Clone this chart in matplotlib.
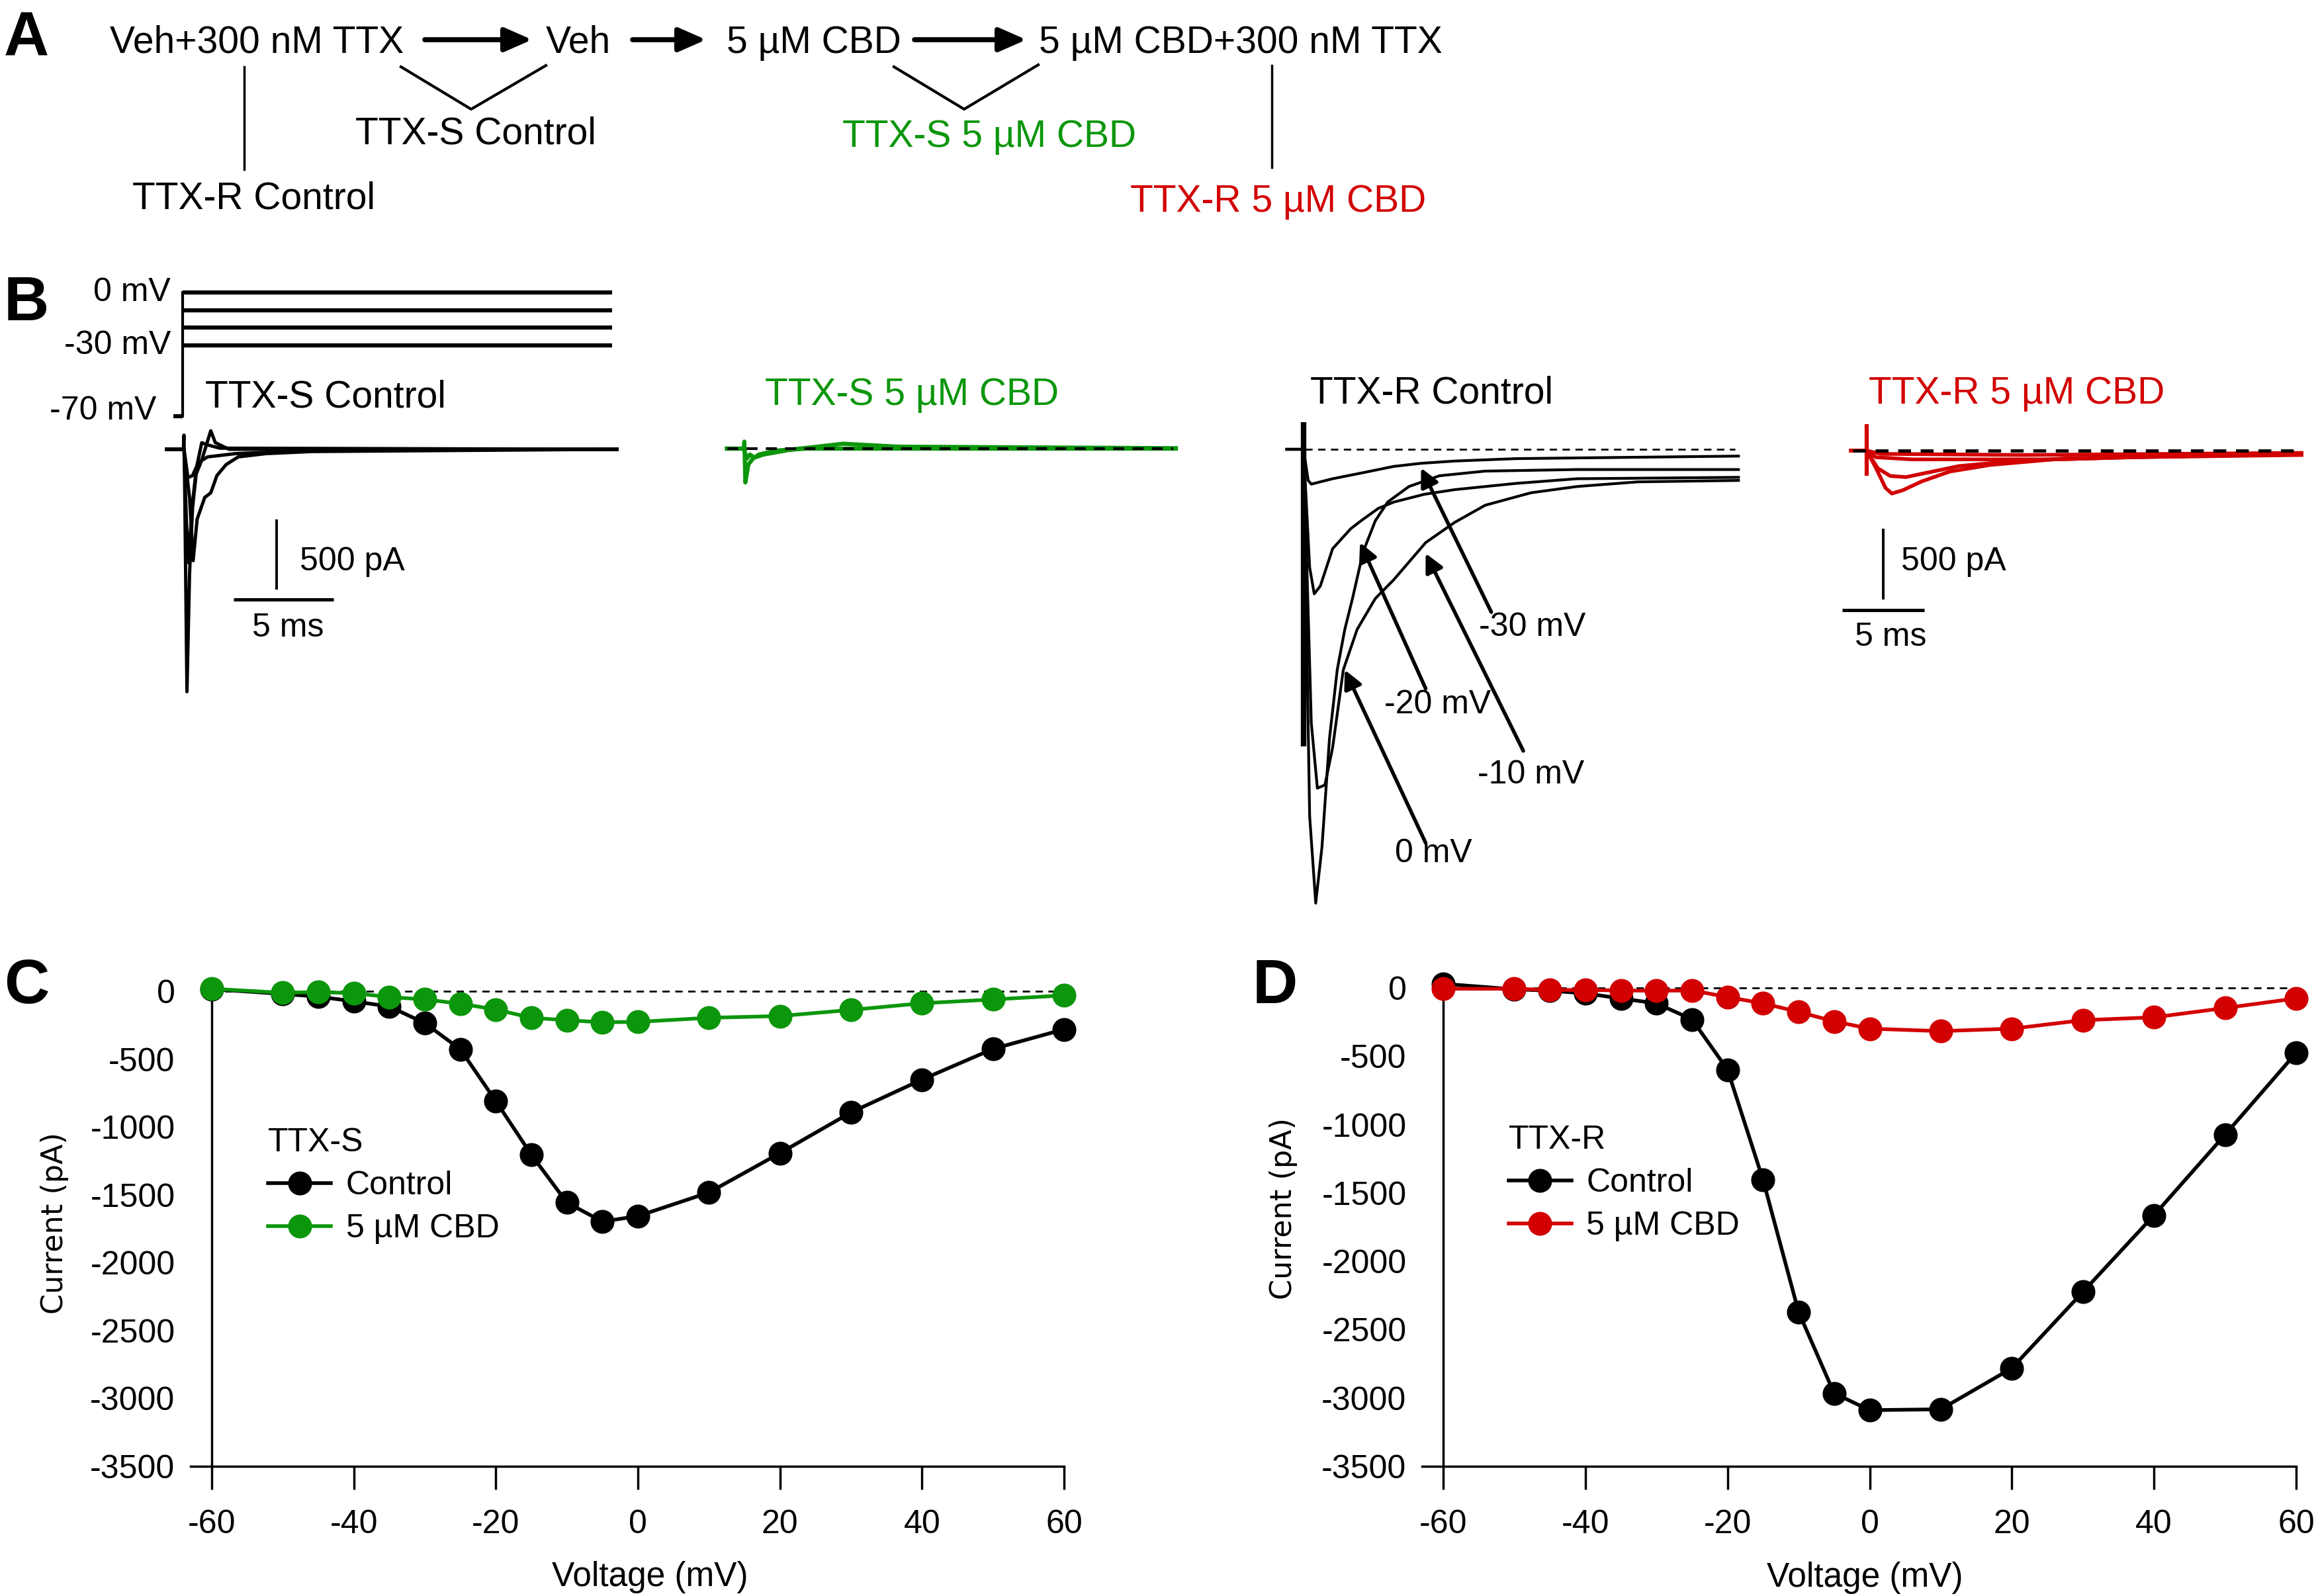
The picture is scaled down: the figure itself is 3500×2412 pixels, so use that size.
import matplotlib
matplotlib.use("Agg")
import matplotlib.pyplot as plt
from matplotlib.lines import Line2D

plt.rcParams['font.family'] = ['Liberation Sans', 'DejaVu Sans']
plt.rcParams['axes.unicode_minus'] = False

W, H = 3500, 2412
GREEN = '#0c960c'
RED = '#d20000'

# ---- C / D : I-V relationships
voltage_mV = [-60, -50, -45, -40, -35, -30, -25, -20, -15, -10, -5, 0, 10, 20, 30, 40, 50, 60]
ttxs_control_pA = [15, -20, -40, -75, -113, -235, -428, -810, -1205, -1557, -1697, -1657,
                   -1483, -1193, -893, -651, -425, -281]
ttxs_cbd_pA = [18, -12, -6, -15, -43, -61, -92, -135, -196, -214, -229, -226,
               -196, -183, -138, -89, -61, -31]
ttxr_control_pA = [30, -10, -20, -40, -77, -113, -230, -598, -1405, -2371, -2966, -3089,
                   -3083, -2782, -2224, -1663, -1074, -475]
ttxr_cbd_pA = [-6, -6, -15, -15, -18, -21, -18, -67, -113, -175, -245, -298,
               -316, -298, -236, -215, -147, -77]

# ---- B : voltage protocol
step_levels_mV = [0, -10, -20, -30]
holding_mV = -70
step_ms = [0, 21.5]
hold_ms = [-0.47, 0]

# ---- B : TTX-S control traces (ms, pA)
s_ctrl_t = [
    [-0.87, -0.03, 0, 0.03, 0.15, 0.28, 0.43, 0.66, 0.89, 1.19, 1.80, 21.67],
    [-0.87, 0, 0.12, 0.24, 0.40, 0.58, 0.89, 1.34, 1.57, 2.26, 21.67],
    [-0.87, 0, 0.28, 0.46, 0.66, 1.04, 1.34, 1.65, 2.11, 2.72, 4.10, 6.39, 21.67],
    [-0.87, 0, 0.20, 0.43, 0.73, 1.19, 2.57, 6.39, 21.67],
]
s_ctrl_i = [
    [0, 0, 101, -187, -1728, -887, -420, -109, 47, 31, 8, 0],
    [0, 0, -498, -810, -420, -187, -78, 132, 47, 0, 0],
    [0, 0, -343, -794, -498, -343, -311, -187, -109, -54, -31, -16, 0],
    [0, 0, -202, -187, -93, -54, -31, -8, 0],
]

# ---- B : TTX-S 5 uM CBD traces
s_cbd_t = [
    [-0.84, 0, 0.03, 0.08, 0.23, 0.46, 0.76, 1.60, 3.13, 21.62],
    [-0.84, 0, 0.15, 0.31, 0.53, 0.99, 2.37, 4.97, 7.72, 21.62],
]
s_cbd_i = [
    [0, 0, 50, -241, -113, -71, -42, -14, 0, 0],
    [0, 0, -71, -42, -64, -42, -7, 35, 14, 3],
]

# ---- B : TTX-R control traces (0, -10, -20, -30 mV)
r_ctrl_artifact_pA = [190, -2100]
r_ctrl_t = [
    [-1.02, 0, 0.37, 0.74, 1.12, 1.58, 2.05, 2.51, 2.98, 3.63, 4.37, 5.12, 6.42, 8.28, 11.07, 16.65, 26.5],
    [-1.02, 0, 0.47, 0.84, 1.30, 1.77, 2.42, 3.26, 4.37, 5.49, 7.44, 9.21, 11.07, 13.86, 16.65, 20.37, 26.5],
    [-1.02, 0, 0.37, 0.65, 1.02, 1.77, 2.88, 3.63, 4.56, 5.49, 7.35, 9.21, 12.93, 16.65, 26.5],
    [-1.02, 0, 0.28, 0.47, 1.77, 3.63, 5.49, 7.16, 9.21, 12.93, 16.65, 26.5],
]
r_ctrl_i = [
    [0, 0, -2590, -3205, -2810, -2041, -1558, -1273, -1054, -724, -505, -373, -263, -187, -154, -143, -143],
    [0, 0, -1932, -2393, -2371, -2107, -1558, -1273, -1054, -922, -659, -516, -395, -307, -263, -230, -220],
    [0, 0, -834, -1021, -966, -702, -560, -494, -417, -373, -318, -285, -241, -208, -198],
    [0, 0, -220, -246, -208, -165, -121, -99, -83, -66, -61, -48],
]

# ---- B : TTX-R 5 uM CBD traces
r_cbd_artifact_pA = [187, -179]
r_cbd_t = [
    [-0.95, 0, 0.57, 1.15, 1.53, 2.20, 3.34, 5.06, 7.54, 11.4, 16.1, 26.5],
    [-0.95, 0, 0.67, 1.43, 2.39, 3.72, 5.63, 8.50, 12.3, 26.5],
    [-0.95, 0, 0.57, 2.77, 6.6, 11.6, 16.1, 26.5],
    [-0.95, 0, 0.86, 9.5, 26.5],
]
r_cbd_i = [
    [0, 0, -124, -264, -303, -280, -218, -148, -101, -62, -47, -23],
    [0, 0, -124, -179, -187, -155, -109, -78, -54, -23],
    [0, 0, -47, -62, -62, -62, -47, -31],
    [0, 0, -23, -31, -16],
]

fig = plt.figure(figsize=(W / 100, H / 100), dpi=100)


def px_axes(left, top, right, bottom):
    return fig.add_axes([left / W, 1 - bottom / H, (right - left) / W, (bottom - top) / H])


def trace_axes(x0, y0, px_x, px_y, xlim, ylim):
    # x0, y0: pixel position of (0, 0); px_x, px_y: pixels per data unit
    ax = px_axes(x0 + xlim[0] * px_x, y0 - ylim[1] * px_y,
                 x0 + xlim[1] * px_x, y0 - ylim[0] * px_y)
    ax.set_xlim(xlim)
    ax.set_ylim(ylim)
    ax.axis('off')
    return ax


# overlay in pixel coordinates for labels and the scheme of panel A
ax0 = fig.add_axes([0, 0, 1, 1])
ax0.set_xlim(0, W)
ax0.set_ylim(H, 0)
ax0.axis('off')

FS_BIG = 41
FS = 36
for letter, x, y in [('A', 6, 84), ('B', 6, 484), ('C', 6, 1516), ('D', 1893, 1516)]:
    ax0.text(x, y, letter, fontsize=68, fontweight='bold', va='baseline')

# panel A scheme
ax0.text(166, 80, 'Veh+300 nM TTX', fontsize=FS_BIG, va='baseline')
ax0.text(825, 80, 'Veh', fontsize=FS_BIG, va='baseline')
ax0.text(1098, 80, '5 µM CBD', fontsize=FS_BIG, va='baseline')
ax0.text(1570, 80, '5 µM CBD+300 nM TTX', fontsize=FS_BIG, va='baseline')
arrow_a = dict(arrowstyle='-|>,head_length=0.5,head_width=0.22', mutation_scale=50,
               lw=5.5, color='k', shrinkA=0, shrinkB=0)
for x1, x2 in [(642, 804), (956, 1067), (1382, 1551)]:
    ax0.annotate('', xy=(x2, 60), xytext=(x1, 60), arrowprops=arrow_a)
ax0.plot([369, 369], [101, 256], color='k', lw=2.5)
ax0.plot([606, 712, 825], [101, 165, 99], color='k', lw=3)
ax0.plot([1351, 1457, 1569], [101, 165, 98], color='k', lw=3)
ax0.plot([1922, 1922], [99, 253], color='k', lw=2.5)
ax0.text(719, 218, 'TTX-S Control', fontsize=FS_BIG, va='baseline', ha='center')
ax0.text(1495, 222, 'TTX-S 5 µM CBD', fontsize=FS_BIG, va='baseline', ha='center', color=GREEN)
ax0.text(384, 316, 'TTX-R Control', fontsize=FS_BIG, va='baseline', ha='center')
ax0.text(1932, 320, 'TTX-R 5 µM CBD', fontsize=FS_BIG, va='baseline', ha='center', color=RED)

# panel B headings
ax0.text(310, 616, 'TTX-S Control', fontsize=FS_BIG, va='baseline')
ax0.text(1156, 612, 'TTX-S 5 µM CBD', fontsize=FS_BIG, va='baseline', color=GREEN)
ax0.text(1980, 610, 'TTX-R Control', fontsize=FS_BIG, va='baseline')
ax0.text(2824, 610, 'TTX-R 5 µM CBD', fontsize=FS_BIG, va='baseline', color=RED)

# voltage protocol
axv = trace_axes(276, 442, 30.2, 2.667, (-1.5, 23), (-75, 5))
for v in step_levels_mV:
    axv.plot(step_ms, [v, v], color='k', lw=4.5, solid_capstyle='butt', clip_on=False)
axv.plot([0, 0], [holding_mV, step_levels_mV[0]], color='k', lw=3, clip_on=False)
axv.plot(hold_ms, [holding_mV, holding_mV], color='k', lw=4.5, solid_capstyle='butt', clip_on=False)
axv.text(-0.6, 0, '0 mV', ha='right', va='center', fontsize=FS)
axv.text(-0.6, -30, '-30 mV', ha='right', va='center', fontsize=FS)
axv.text(-1.3, -67, '-70 mV', ha='right', va='center', fontsize=FS)

# TTX-S control
ax1 = trace_axes(278, 679, 30.2, 0.212, (-1.5, 23), (-1900, 300))
for t, i in zip(s_ctrl_t, s_ctrl_i):
    ax1.plot(t, i, color='k', lw=3.6, clip_on=False)
ax1.plot([4.64, 4.64], [-500, -1000], color='k', lw=2.8, solid_capstyle='butt')
ax1.plot([2.48, 7.48], [-1071, -1071], color='k', lw=3.6, solid_capstyle='butt')
ax1.text(5.8, -800, '500 pA', ha='left', va='center', fontsize=FS)
ax1.text(5.2, -1275, '5 ms', ha='center', va='center', fontsize=FS)

# TTX-S 5 uM CBD
ax2 = trace_axes(1124, 678, 30.2, 0.212, (-1.5, 23), (-600, 300))
for t, i in zip(s_cbd_t, s_cbd_i):
    ax2.plot(t, i, color=GREEN, lw=4.5, clip_on=False)
ax2.plot([-0.84, 21.5], [0, 0], color='k', lw=3, dashes=(4, 3))

# TTX-R control
ax3 = trace_axes(1970, 679, 24.8, 0.214, (-1.5, 27.5), (-3400, 300))
ax3.plot([0, 0], r_ctrl_artifact_pA, color='k', lw=6, solid_capstyle='butt')
for t, i in zip(r_ctrl_t, r_ctrl_i):
    ax3.plot(t, i, color='k', lw=3, clip_on=False)
ax3.plot([0.1, 26.3], [0, 0], color='k', lw=2, dashes=(4, 3))
arrow_b = dict(arrowstyle='-|>', mutation_scale=42, lw=4, color='k', shrinkA=0, shrinkB=0)
for label, tail, head, pos in [
        ('-30 mV', (11.44, -1150), (7.16, -132), (10.7, -1257)),
        ('-20 mV', (7.44, -1690), (3.44, -658), (4.93, -1804)),
        ('-10 mV', (13.39, -2130), (7.44, -735), (10.6, -2297)),
        ('0 mV', (7.44, -2780), (2.51, -1558), (5.58, -2855))]:
    ax3.annotate('', xy=head, xytext=tail, arrowprops=arrow_b)
    ax3.text(pos[0], pos[1], label, ha='left', va='center', fontsize=FS)

# TTX-R 5 uM CBD
ax4 = trace_axes(2821, 681, 24.8, 0.214, (-1.5, 27.5), (-1400, 300))
ax4.plot([0, 0], r_cbd_artifact_pA, color=RED, lw=4.5, solid_capstyle='butt')
for t, i in zip(r_cbd_t, r_cbd_i):
    ax4.plot(t, i, color=RED, lw=4, clip_on=False)
ax4.plot([-0.86, 26.1], [0, 0], color='k', lw=3.5, dashes=(4, 3))
ax4.plot([1.0, 1.0], [-550, -1050], color='k', lw=2.8, solid_capstyle='butt')
ax4.plot([-1.5, 3.5], [-1126, -1126], color='k', lw=3.6, solid_capstyle='butt')
ax4.text(2.1, -787, '500 pA', ha='left', va='center', fontsize=FS)
ax4.text(1.46, -1320, '5 ms', ha='center', va='center', fontsize=FS)


def iv_panel(ax, ctrl, cbd, color, title, leg_x, lab_x, lab_y, xlab_x):
    ax.hlines(0, voltage_mV[0], voltage_mV[-1], color='k', lw=2, linestyles=(0, (4, 3)), zorder=1)
    ax.plot(voltage_mV, ctrl, '-o', color='k', lw=4, ms=25, clip_on=False, zorder=3)
    ax.plot(voltage_mV, cbd, '-o', color=color, lw=4, ms=25, clip_on=False, zorder=4)
    ax.set_xlim(-63, 60)
    ax.set_ylim(-3500, 50)
    ax.spines['left'].set_position(('data', -60))
    ax.spines[['top', 'right']].set_visible(False)
    for s in ('left', 'bottom'):
        ax.spines[s].set_linewidth(2.5)
    ax.set_xticks(range(-60, 61, 20))
    ax.set_yticks(range(0, -3501, -500))
    ax.tick_params(axis='x', direction='out', length=25, width=2.5, pad=22, labelsize=FS)
    ax.tick_params(axis='y', length=0, pad=40, labelsize=FS)
    ax.set_xlabel('Voltage (mV)', fontsize=37)
    ax.set_ylabel('Current (pA)', fontsize=32, family='DejaVu Sans')
    ax.yaxis.set_label_coords(lab_x, lab_y)
    ax.xaxis.set_label_coords(xlab_x, -0.196)
    handles = [Line2D([], [], color='k', marker='o', lw=4, ms=25),
               Line2D([], [], color=color, marker='o', lw=4, ms=25)]
    ax.legend(handles, ['Control', '5 µM CBD'], title=title, loc='upper left',
              bbox_to_anchor=(leg_x, 0.703), frameon=False, fontsize=FS, title_fontsize=FS,
              handlelength=1.9, handletextpad=0.45, borderpad=0, borderaxespad=0,
              labelspacing=0.38, alignment='left')


axc = px_axes(287.8, 1487.7, 1608, 2216)
iv_panel(axc, ttxs_control_pA, ttxs_cbd_pA, GREEN, 'TTX-S', 0.089, -0.139, 0.504, 0.526)
axd = px_axes(2148.8, 1482.7, 3470, 2216)
iv_panel(axd, ttxr_control_pA, ttxr_cbd_pA, RED, 'TTX-R', 0.099, -0.142, 0.531, 0.507)

fig.savefig('out.png', dpi=100)
